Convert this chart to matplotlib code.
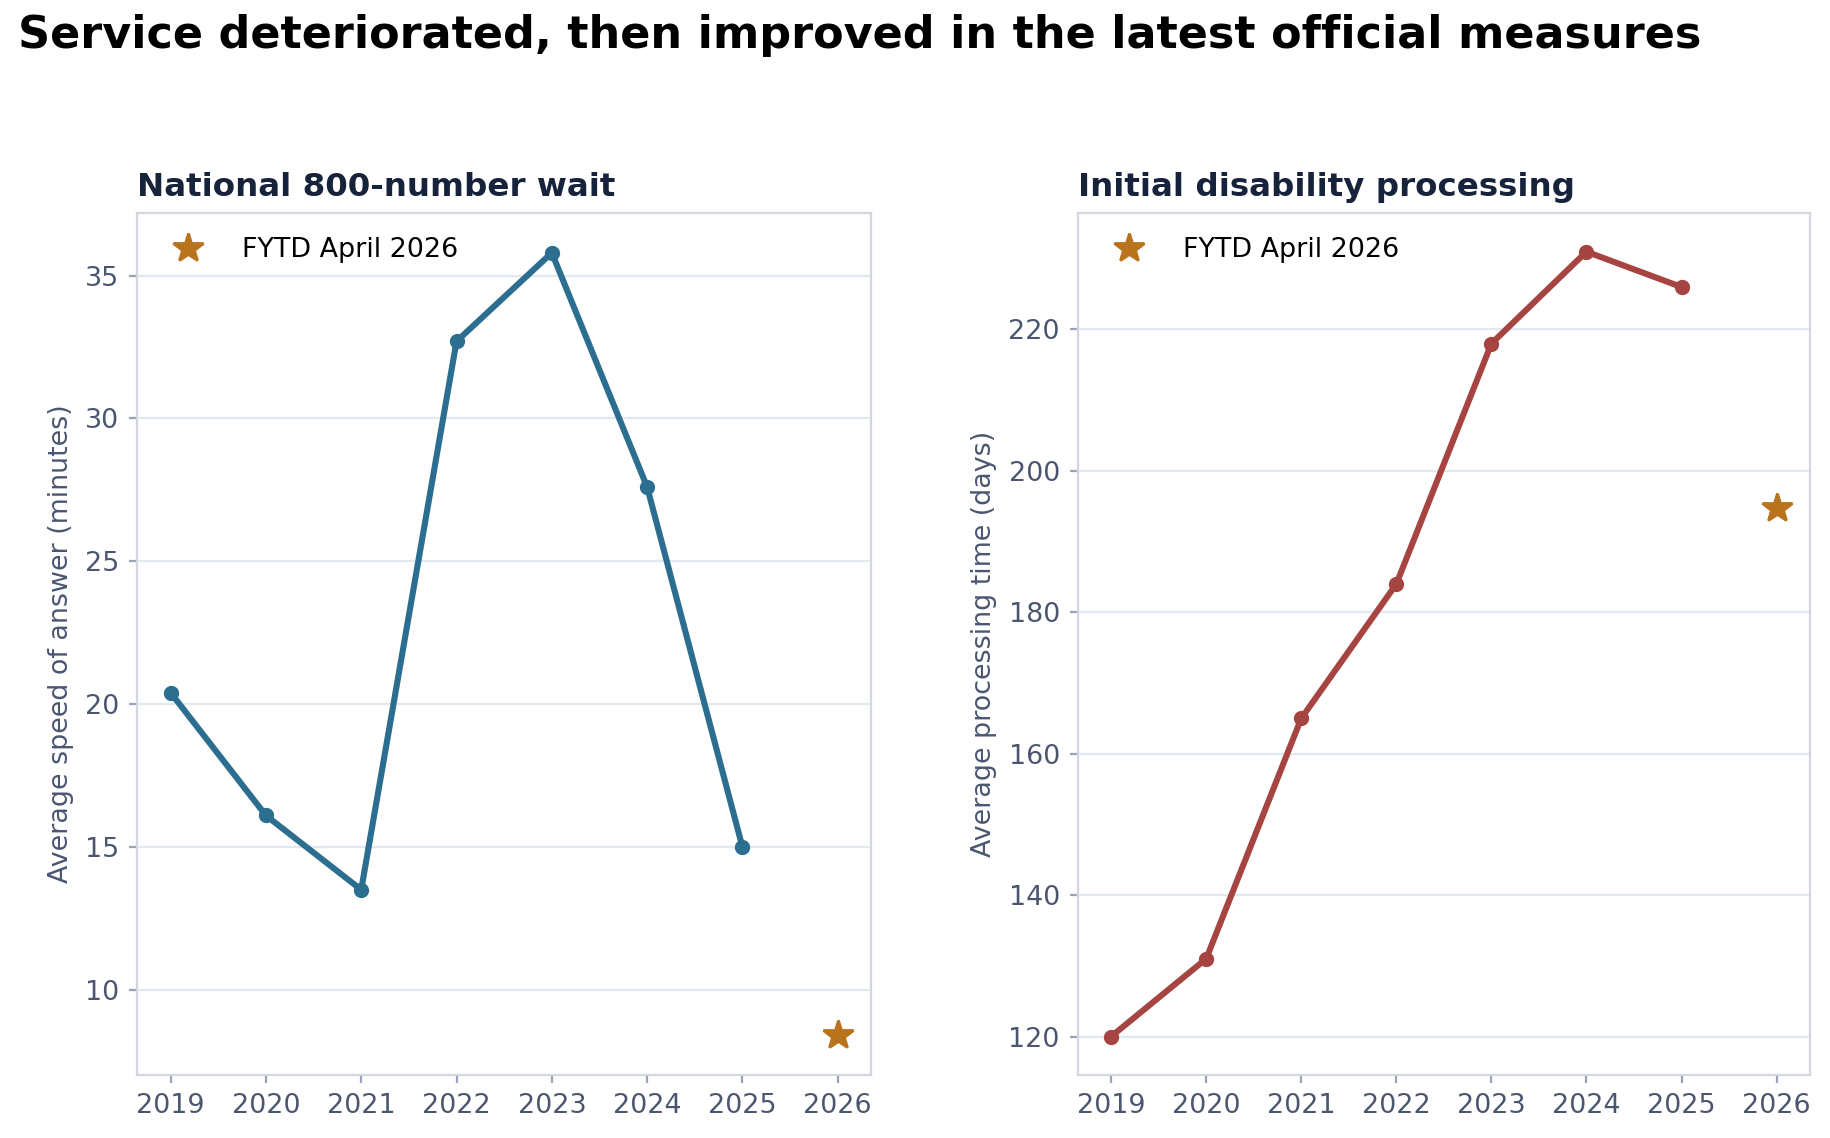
import matplotlib
matplotlib.use("Agg")
import matplotlib.pyplot as plt

years = [2019, 2020, 2021, 2022, 2023, 2024, 2025]
wait_minutes = [20.4, 16.1, 13.5, 32.7, 35.8, 27.6, 15.0]
proc_days = [120, 131, 165, 184, 218, 231, 226]
fytd_year = 2026
fytd_wait = 8.4
fytd_days = 194.7
xticks = [2019, 2020, 2021, 2022, 2023, 2024, 2025, 2026]

fig = plt.figure(figsize=(9.15, 5.69), dpi=200)
fig.suptitle("Service deteriorated, then improved in the latest official measures",
             x=0.01, y=0.988, ha="left", fontsize=16, fontweight="bold")

ax1 = fig.add_axes([0.075, 0.055, 0.401, 0.758])
ax2 = fig.add_axes([0.589, 0.055, 0.400, 0.758])

specs = [
    (ax1, wait_minutes, fytd_wait, "#2c6e8f", "National 800-number wait",
     "Average speed of answer (minutes)", (7.0, 37.2), [10, 15, 20, 25, 30, 35]),
    (ax2, proc_days, fytd_days, "#a64442", "Initial disability processing",
     "Average processing time (days)", (114.5, 236.5), [120, 140, 160, 180, 200, 220]),
]
for ax, vals, star, col, title, ylabel, ylim, yt in specs:
    ax.plot(years, vals, color=col, lw=2.2, marker="o", ms=4.5, zorder=3)
    ax.plot([fytd_year], [star], ls="none", marker="*", ms=11, color="#b8731c",
            label="FYTD April 2026", zorder=4)
    ax.set_ylim(*ylim)
    ax.set_yticks(yt)
    ax.set_xlim(2018.65, 2026.35)
    ax.set_xticks(xticks)
    ax.set_title(title, loc="left", fontsize=11.7, fontweight="bold", color="#17223b", pad=6)
    ax.set_ylabel(ylabel, fontsize=9.7, color="#4a5670")
    ax.grid(axis="y", color="#e3e7ee", lw=0.8)
    ax.set_axisbelow(True)
    for s in ax.spines.values():
        s.set_color("#d3d7e0")
        s.set_linewidth(0.8)
    ax.tick_params(colors="#4a5670", labelsize=9.7, length=3, color="#9aa3b5")
    ax.legend(loc="upper left", frameon=False, fontsize=9.7, handletextpad=1.0)

fig.savefig("out.png", dpi=200)
